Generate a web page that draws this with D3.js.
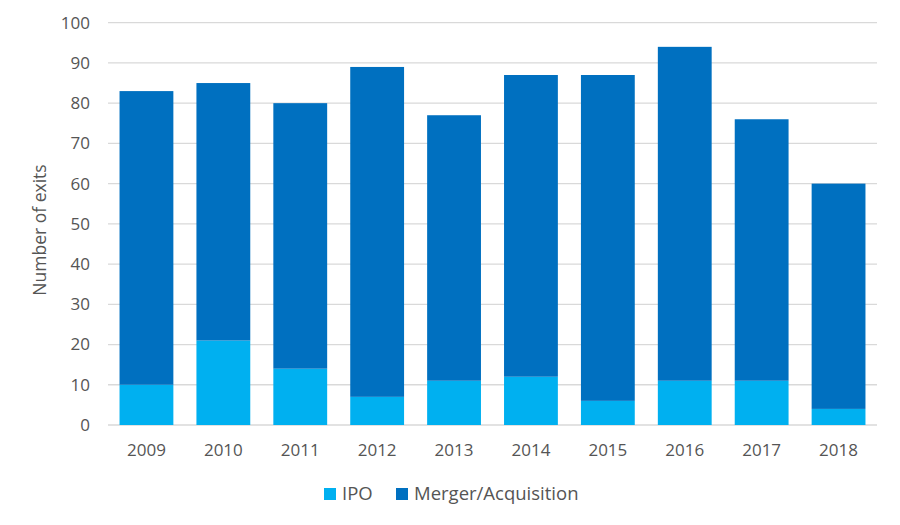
<!DOCTYPE html>
<html><head><meta charset="utf-8">
<script src="https://cdn.jsdelivr.net/npm/d3@7"></script>
<style>body{margin:0;background:#fff;} text{font-family:"Open Sans",sans-serif;fill:#555;}</style>
</head><body><svg id="c" width="900" height="525"></svg>
<script>
const years = ["2009","2010","2011","2012","2013","2014","2015","2016","2017","2018"];
const ipo = [10,21,14,7,11,12,6,11,11,4];
const ma = [73,64,66,82,66,75,81,83,65,56];
const yTicks = [0,10,20,30,40,50,60,70,80,90,100];
const seriesNames = ["IPO","Merger/Acquisition"];
const colors = ["#00B0F0","#0070C0"];

const svg = d3.select("#c");
const m = {l:108};
const x = d3.scaleBand().domain(years).range([m.l, 877]).paddingInner(0.3).paddingOuter(0.15);
const y = d3.scaleLinear().domain([0,100]).range([425, 22.7]);

// gridlines
svg.append("g").selectAll("line").data(yTicks).join("line")
  .attr("x1", m.l).attr("x2", 877).attr("y1", d=>y(d)).attr("y2", d=>y(d))
  .attr("stroke", "#d9d9d9").attr("stroke-width", 1.3);

const table = years.map((yr,i)=>({year:yr, IPO:ipo[i], "Merger/Acquisition":ma[i]}));
const stack = d3.stack().keys(seriesNames)(table);
svg.append("g").selectAll("g").data(stack).join("g").attr("fill",(d,i)=>colors[i])
  .selectAll("rect").data(d=>d).join("rect")
  .attr("x", d=>x(d.data.year)).attr("width", x.bandwidth())
  .attr("y", d=>y(d[1])).attr("height", d=>y(d[0])-y(d[1]));

// y axis
const ya = svg.append("g").attr("transform",`translate(${m.l},0)`)
  .call(d3.axisLeft(y).tickValues(yTicks).tickSize(0).tickPadding(18));
ya.select(".domain").remove();
ya.selectAll("text").style("font-size","17px").attr("fill","#555");

// x axis
const xa = svg.append("g").attr("transform","translate(0,425)")
  .call(d3.axisBottom(x).tickSize(0).tickPadding(19));
xa.select(".domain").remove();
xa.selectAll("text").style("font-size","17px").attr("fill","#555");

svg.append("text").attr("transform","translate(46,230) rotate(-90)")
  .attr("text-anchor","middle").style("font-size","17.5px").text("Number of exits");

// legend
const lg = svg.append("g");
const items = [{n:"IPO",c:colors[0],x:324},{n:"Merger/Acquisition",c:colors[1],x:396}];
items.forEach(it=>{
  lg.append("rect").attr("x",it.x).attr("y",488).attr("width",12).attr("height",12).attr("fill",it.c);
  lg.append("text").attr("x",it.x+18).attr("y",500).style("font-size","18.5px").text(it.n);
});
</script></body></html>
